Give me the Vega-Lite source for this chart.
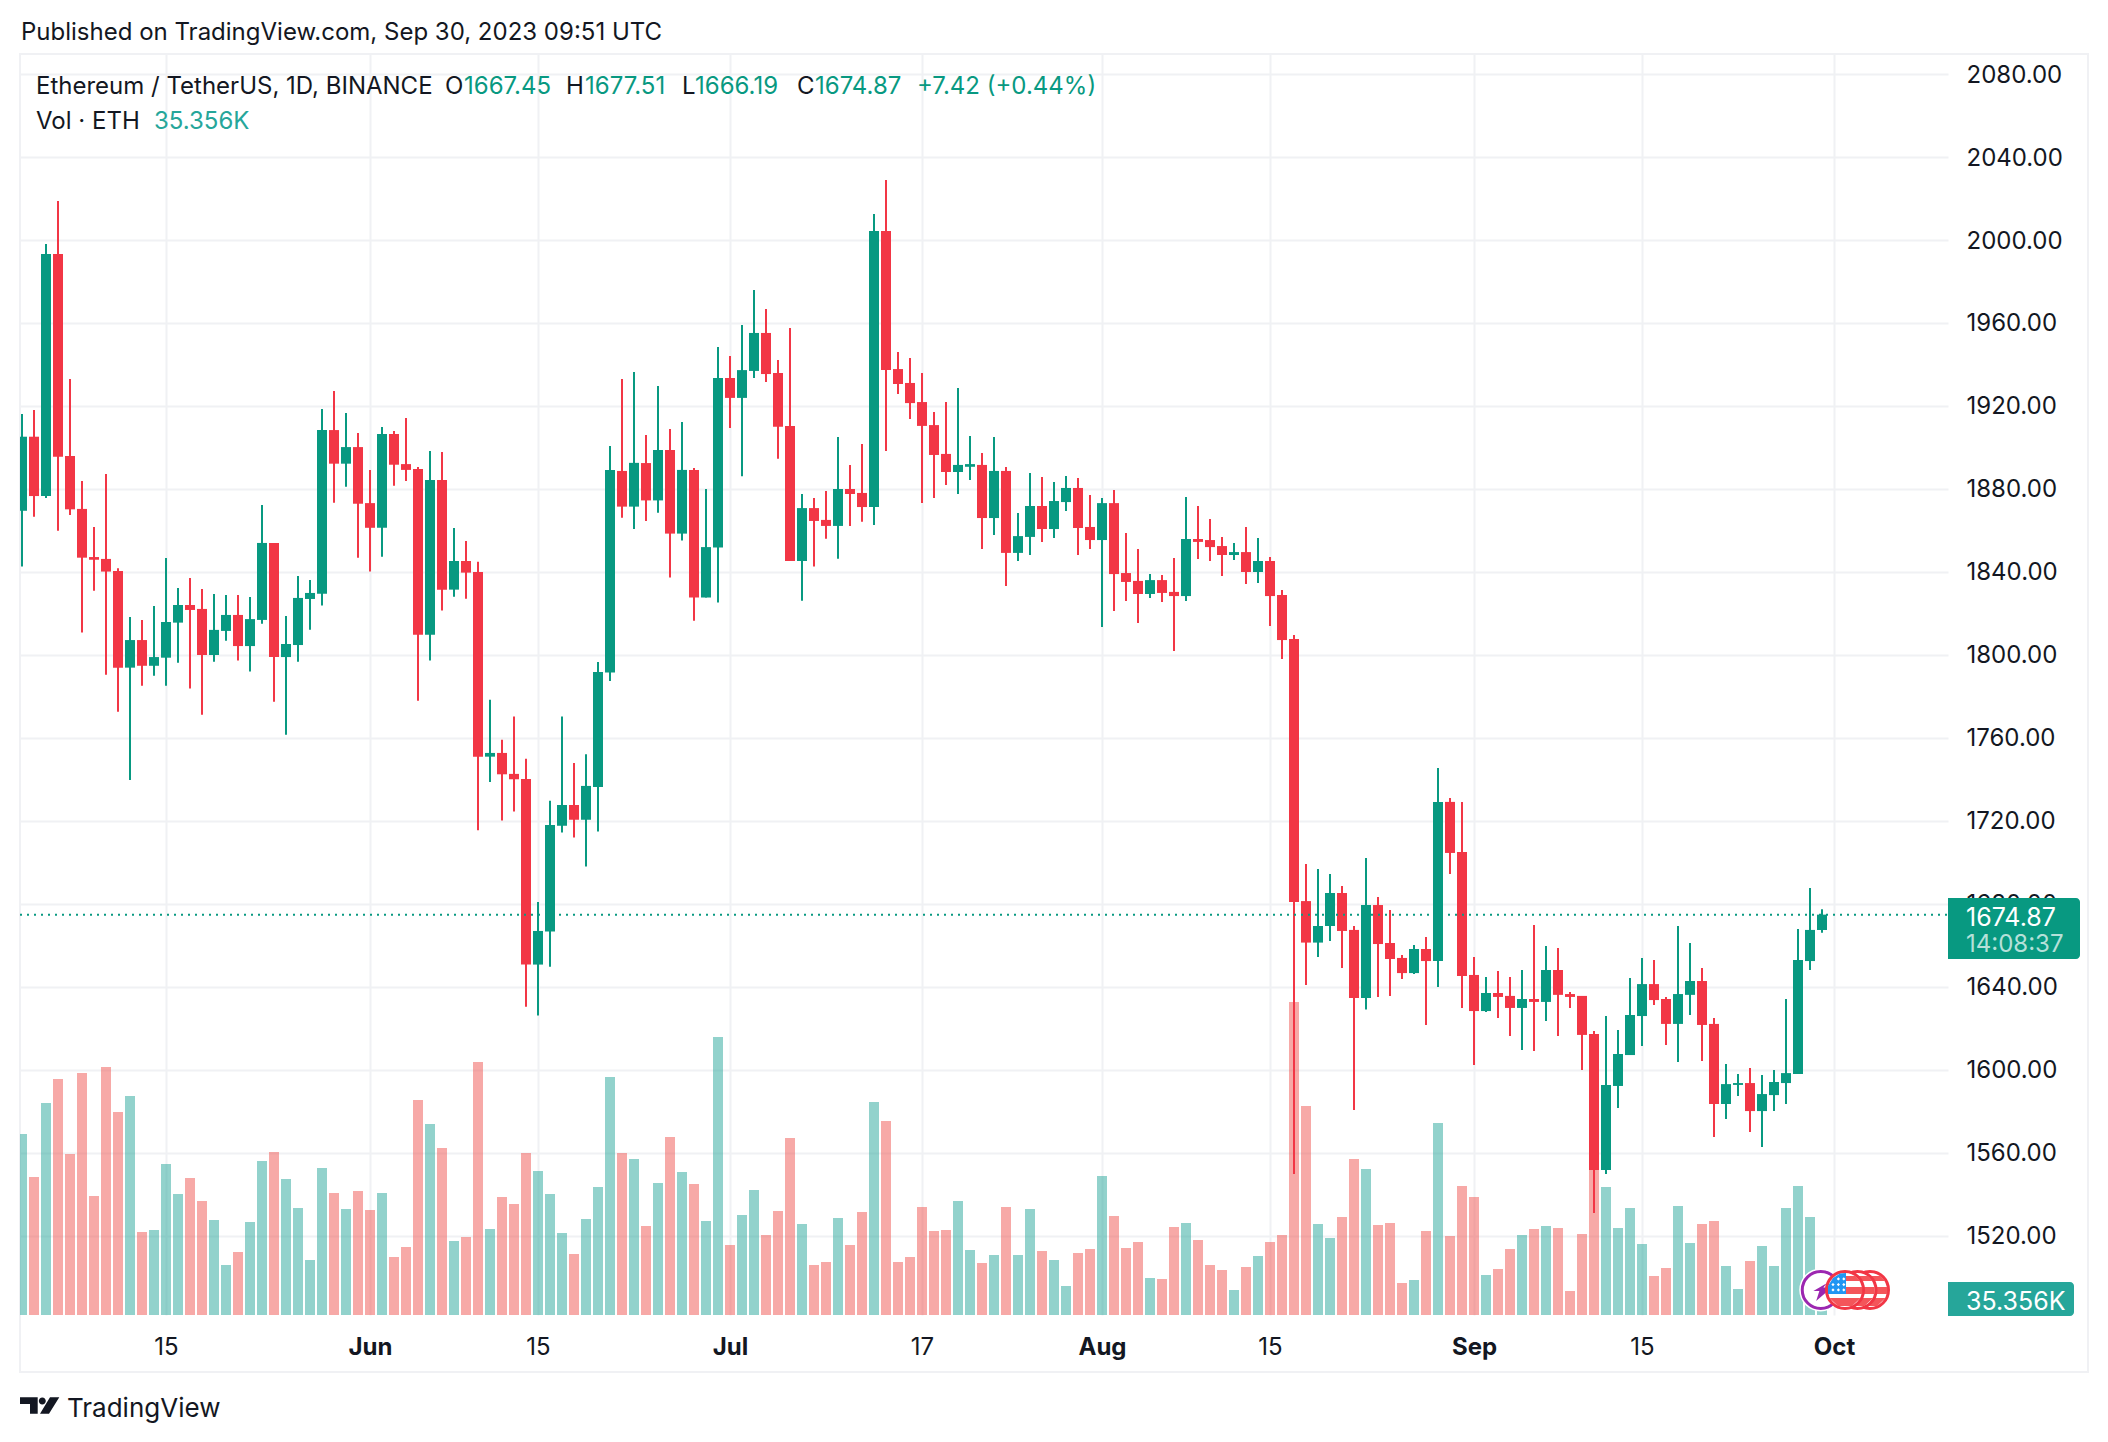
{"$schema":"https://vega.github.io/schema/vega-lite/v6.json","width":1928,"height":1261,"autosize":{"type":"none"},"padding":{"left":20,"top":54,"right":160,"bottom":127},"background":"#ffffff","config":{"view":{"stroke":null},"font":"Inter","text":{"font":"Inter"}},
"datasets":{"c":[
{"d":"2023-05-03","o":1869.5,"h":1916.1,"l":1842.6,"c":1905.2,"v":633.5},
{"d":"2023-05-04","o":1905.2,"h":1918.1,"l":1866.6,"c":1876.6,"v":483},
{"d":"2023-05-05","o":1876.6,"h":1998.1,"l":1875.7,"c":1993.3,"v":742},
{"d":"2023-05-06","o":1993.3,"h":2018.8,"l":1859.9,"c":1895.6,"v":826},
{"d":"2023-05-07","o":1895.9,"h":1933.0,"l":1867.5,"c":1870.2,"v":563.5},
{"d":"2023-05-08","o":1870.4,"h":1883.9,"l":1810.8,"c":1846.9,"v":847},
{"d":"2023-05-09","o":1847.2,"h":1861.7,"l":1831.0,"c":1845.9,"v":416.5},
{"d":"2023-05-10","o":1846.3,"h":1887.2,"l":1790.5,"c":1840.2,"v":868},
{"d":"2023-05-11","o":1840.5,"h":1841.8,"l":1772.7,"c":1793.9,"v":710.5},
{"d":"2023-05-12","o":1793.9,"h":1818.3,"l":1739.8,"c":1807.2,"v":766.5},
{"d":"2023-05-13","o":1807.2,"h":1816.9,"l":1785.2,"c":1794.8,"v":290.5},
{"d":"2023-05-14","o":1794.8,"h":1823.6,"l":1790.0,"c":1799.0,"v":297.5},
{"d":"2023-05-15","o":1798.7,"h":1846.7,"l":1785.2,"c":1815.9,"v":528.5},
{"d":"2023-05-16","o":1815.6,"h":1832.3,"l":1796.3,"c":1824.1,"v":423.5},
{"d":"2023-05-17","o":1824.1,"h":1837.1,"l":1783.8,"c":1821.7,"v":479.5},
{"d":"2023-05-18","o":1822.2,"h":1831.8,"l":1771.2,"c":1800.0,"v":399},
{"d":"2023-05-19","o":1800.0,"h":1829.4,"l":1796.8,"c":1812.1,"v":332.5},
{"d":"2023-05-20","o":1811.6,"h":1828.9,"l":1806.9,"c":1819.3,"v":175},
{"d":"2023-05-21","o":1819.3,"h":1828.9,"l":1797.3,"c":1804.3,"v":220.5},
{"d":"2023-05-22","o":1804.3,"h":1828.0,"l":1792.0,"c":1817.3,"v":325.5},
{"d":"2023-05-23","o":1816.9,"h":1872.3,"l":1815.1,"c":1854.0,"v":539},
{"d":"2023-05-24","o":1854.0,"h":1854.0,"l":1777.5,"c":1799.0,"v":570.5},
{"d":"2023-05-25","o":1799.0,"h":1818.8,"l":1761.6,"c":1805.3,"v":476},
{"d":"2023-05-26","o":1804.8,"h":1838.1,"l":1796.8,"c":1827.5,"v":374.5},
{"d":"2023-05-27","o":1827.0,"h":1836.1,"l":1812.2,"c":1829.9,"v":192.5},
{"d":"2023-05-28","o":1829.5,"h":1918.6,"l":1823.8,"c":1908.4,"v":514.5},
{"d":"2023-05-29","o":1908.4,"h":1927.2,"l":1873.4,"c":1892.2,"v":427},
{"d":"2023-05-30","o":1892.2,"h":1916.6,"l":1881.1,"c":1900.2,"v":371},
{"d":"2023-05-31","o":1900.2,"h":1907.0,"l":1846.9,"c":1872.9,"v":434},
{"d":"2023-06-01","o":1873.2,"h":1889.2,"l":1840.2,"c":1861.3,"v":367.5},
{"d":"2023-06-02","o":1861.3,"h":1909.9,"l":1847.4,"c":1906.5,"v":427},
{"d":"2023-06-03","o":1906.5,"h":1908.0,"l":1881.6,"c":1891.7,"v":203},
{"d":"2023-06-04","o":1892.0,"h":1914.2,"l":1883.9,"c":1889.2,"v":238},
{"d":"2023-06-05","o":1889.6,"h":1890.6,"l":1778.0,"c":1809.8,"v":752.5},
{"d":"2023-06-06","o":1809.8,"h":1898.3,"l":1797.3,"c":1884.3,"v":668.5},
{"d":"2023-06-07","o":1884.3,"h":1897.8,"l":1821.4,"c":1831.5,"v":584.5},
{"d":"2023-06-08","o":1831.5,"h":1861.2,"l":1828.1,"c":1845.3,"v":259},
{"d":"2023-06-09","o":1845.3,"h":1854.9,"l":1827.1,"c":1839.7,"v":273},
{"d":"2023-06-10","o":1840.0,"h":1844.9,"l":1715.5,"c":1751.0,"v":885.5},
{"d":"2023-06-11","o":1751.0,"h":1778.4,"l":1738.8,"c":1752.8,"v":301},
{"d":"2023-06-12","o":1752.8,"h":1759.1,"l":1720.2,"c":1742.5,"v":413},
{"d":"2023-06-13","o":1742.7,"h":1770.3,"l":1724.6,"c":1740.1,"v":388.5},
{"d":"2023-06-14","o":1740.2,"h":1750.0,"l":1630.5,"c":1650.8,"v":567},
{"d":"2023-06-15","o":1650.8,"h":1681.0,"l":1626.3,"c":1667.0,"v":504},
{"d":"2023-06-16","o":1666.8,"h":1729.7,"l":1649.8,"c":1718.1,"v":423.5},
{"d":"2023-06-17","o":1717.7,"h":1770.3,"l":1714.5,"c":1727.7,"v":287},
{"d":"2023-06-18","o":1727.7,"h":1748.0,"l":1712.0,"c":1720.6,"v":213.5},
{"d":"2023-06-19","o":1720.6,"h":1752.2,"l":1698.1,"c":1736.9,"v":336},
{"d":"2023-06-20","o":1736.4,"h":1796.6,"l":1714.9,"c":1791.8,"v":448},
{"d":"2023-06-21","o":1791.6,"h":1900.7,"l":1787.5,"c":1889.2,"v":833},
{"d":"2023-06-22","o":1888.7,"h":1933.0,"l":1866.2,"c":1871.5,"v":567},
{"d":"2023-06-23","o":1871.5,"h":1936.4,"l":1860.7,"c":1892.6,"v":546},
{"d":"2023-06-24","o":1892.5,"h":1906.0,"l":1864.6,"c":1874.5,"v":311.5},
{"d":"2023-06-25","o":1874.5,"h":1929.6,"l":1868.6,"c":1898.8,"v":462},
{"d":"2023-06-26","o":1898.8,"h":1908.9,"l":1837.4,"c":1858.5,"v":623},
{"d":"2023-06-27","o":1858.5,"h":1912.3,"l":1855.2,"c":1889.2,"v":500.5},
{"d":"2023-06-28","o":1889.2,"h":1890.1,"l":1816.5,"c":1827.7,"v":458.5},
{"d":"2023-06-29","o":1827.7,"h":1880.0,"l":1827.7,"c":1852.0,"v":329},
{"d":"2023-06-30","o":1851.8,"h":1948.4,"l":1825.3,"c":1933.5,"v":973},
{"d":"2023-07-01","o":1933.5,"h":1944.1,"l":1909.4,"c":1923.9,"v":245},
{"d":"2023-07-02","o":1923.9,"h":1959.0,"l":1886.1,"c":1937.3,"v":350},
{"d":"2023-07-03","o":1936.9,"h":1975.9,"l":1933.5,"c":1955.2,"v":437.5},
{"d":"2023-07-04","o":1955.2,"h":1966.7,"l":1931.6,"c":1935.4,"v":280},
{"d":"2023-07-05","o":1935.9,"h":1942.2,"l":1894.6,"c":1910.0,"v":364},
{"d":"2023-07-06","o":1910.4,"h":1957.6,"l":1845.3,"c":1845.3,"v":619.5},
{"d":"2023-07-07","o":1845.3,"h":1877.6,"l":1826.2,"c":1870.8,"v":318.5},
{"d":"2023-07-08","o":1870.8,"h":1875.7,"l":1842.6,"c":1864.6,"v":175},
{"d":"2023-07-09","o":1865.1,"h":1879.0,"l":1856.0,"c":1862.2,"v":185.5},
{"d":"2023-07-10","o":1862.2,"h":1905.1,"l":1846.4,"c":1880.0,"v":339.5},
{"d":"2023-07-11","o":1880.0,"h":1891.6,"l":1862.2,"c":1877.6,"v":245},
{"d":"2023-07-12","o":1878.1,"h":1901.7,"l":1864.2,"c":1871.3,"v":360.5},
{"d":"2023-07-13","o":1871.3,"h":2012.5,"l":1862.7,"c":2004.3,"v":745.5},
{"d":"2023-07-14","o":2004.3,"h":2028.9,"l":1898.3,"c":1937.3,"v":679},
{"d":"2023-07-15","o":1937.8,"h":1946.0,"l":1925.8,"c":1930.6,"v":185.5},
{"d":"2023-07-16","o":1931.1,"h":1943.1,"l":1913.7,"c":1921.4,"v":203},
{"d":"2023-07-17","o":1921.9,"h":1935.9,"l":1873.2,"c":1910.4,"v":378},
{"d":"2023-07-18","o":1910.8,"h":1917.1,"l":1875.7,"c":1896.4,"v":294},
{"d":"2023-07-19","o":1896.9,"h":1921.9,"l":1881.9,"c":1888.2,"v":297.5},
{"d":"2023-07-20","o":1888.2,"h":1928.7,"l":1877.6,"c":1891.6,"v":399},
{"d":"2023-07-21","o":1890.7,"h":1905.5,"l":1884.3,"c":1892.0,"v":227.5},
{"d":"2023-07-22","o":1891.6,"h":1897.3,"l":1851.1,"c":1866.0,"v":182},
{"d":"2023-07-23","o":1866.0,"h":1905.1,"l":1857.8,"c":1888.7,"v":210},
{"d":"2023-07-24","o":1888.7,"h":1890.6,"l":1833.3,"c":1849.2,"v":378},
{"d":"2023-07-25","o":1849.2,"h":1868.4,"l":1845.3,"c":1857.3,"v":210},
{"d":"2023-07-26","o":1856.9,"h":1887.7,"l":1848.2,"c":1871.8,"v":371},
{"d":"2023-07-27","o":1871.8,"h":1885.8,"l":1854.5,"c":1860.7,"v":224},
{"d":"2023-07-28","o":1860.7,"h":1883.4,"l":1856.4,"c":1874.2,"v":192.5},
{"d":"2023-07-29","o":1873.7,"h":1886.3,"l":1869.4,"c":1880.5,"v":101.5},
{"d":"2023-07-30","o":1880.5,"h":1885.3,"l":1848.2,"c":1861.2,"v":217},
{"d":"2023-07-31","o":1861.7,"h":1877.1,"l":1851.1,"c":1855.4,"v":231},
{"d":"2023-08-01","o":1855.4,"h":1875.7,"l":1813.5,"c":1873.2,"v":486.5},
{"d":"2023-08-02","o":1873.2,"h":1879.5,"l":1821.2,"c":1839.0,"v":346.5},
{"d":"2023-08-03","o":1839.5,"h":1858.8,"l":1826.0,"c":1835.2,"v":234.5},
{"d":"2023-08-04","o":1835.7,"h":1851.1,"l":1815.4,"c":1829.4,"v":255.5},
{"d":"2023-08-05","o":1829.4,"h":1839.0,"l":1827.5,"c":1836.1,"v":129.5},
{"d":"2023-08-06","o":1836.1,"h":1838.6,"l":1825.5,"c":1829.9,"v":126},
{"d":"2023-08-07","o":1830.4,"h":1846.7,"l":1801.9,"c":1828.4,"v":308},
{"d":"2023-08-08","o":1828.4,"h":1876.1,"l":1826.0,"c":1855.9,"v":322},
{"d":"2023-08-09","o":1855.9,"h":1871.8,"l":1846.3,"c":1854.5,"v":262.5},
{"d":"2023-08-10","o":1855.4,"h":1865.5,"l":1845.3,"c":1852.0,"v":175},
{"d":"2023-08-11","o":1852.5,"h":1856.9,"l":1838.1,"c":1848.2,"v":157.5},
{"d":"2023-08-12","o":1848.2,"h":1854.0,"l":1845.8,"c":1849.6,"v":87.5},
{"d":"2023-08-13","o":1849.6,"h":1861.7,"l":1834.2,"c":1840.0,"v":168},
{"d":"2023-08-14","o":1840.0,"h":1856.4,"l":1834.7,"c":1845.3,"v":206.5},
{"d":"2023-08-15","o":1845.3,"h":1847.2,"l":1814.0,"c":1828.4,"v":255.5},
{"d":"2023-08-16","o":1828.9,"h":1831.3,"l":1798.1,"c":1807.2,"v":280},
{"d":"2023-08-17","o":1807.7,"h":1809.6,"l":1549.9,"c":1681.0,"v":1095.5},
{"d":"2023-08-18","o":1681.4,"h":1699.3,"l":1641.0,"c":1661.4,"v":731.5},
{"d":"2023-08-19","o":1661.4,"h":1696.9,"l":1654.5,"c":1669.4,"v":318.5},
{"d":"2023-08-20","o":1669.4,"h":1694.5,"l":1662.2,"c":1685.3,"v":269.5},
{"d":"2023-08-21","o":1685.3,"h":1688.7,"l":1649.2,"c":1667.0,"v":343},
{"d":"2023-08-22","o":1667.5,"h":1669.4,"l":1580.7,"c":1634.7,"v":546},
{"d":"2023-08-23","o":1634.7,"h":1702.2,"l":1629.2,"c":1679.5,"v":511},
{"d":"2023-08-24","o":1679.5,"h":1683.4,"l":1635.2,"c":1660.7,"v":315},
{"d":"2023-08-25","o":1661.2,"h":1677.1,"l":1635.7,"c":1653.5,"v":322},
{"d":"2023-08-26","o":1654.0,"h":1655.4,"l":1643.9,"c":1646.7,"v":112},
{"d":"2023-08-27","o":1646.7,"h":1660.2,"l":1646.3,"c":1658.3,"v":122.5},
{"d":"2023-08-28","o":1658.3,"h":1664.1,"l":1621.7,"c":1652.5,"v":294},
{"d":"2023-08-29","o":1652.5,"h":1745.5,"l":1640.0,"c":1729.2,"v":672},
{"d":"2023-08-30","o":1729.2,"h":1731.1,"l":1694.5,"c":1704.6,"v":276.5},
{"d":"2023-08-31","o":1705.1,"h":1729.2,"l":1629.9,"c":1645.3,"v":451.5},
{"d":"2023-09-01","o":1645.8,"h":1654.5,"l":1602.4,"c":1628.4,"v":413},
{"d":"2023-09-02","o":1628.4,"h":1644.8,"l":1628.0,"c":1637.1,"v":140},
{"d":"2023-09-03","o":1637.1,"h":1647.7,"l":1625.1,"c":1635.2,"v":161},
{"d":"2023-09-04","o":1635.7,"h":1644.8,"l":1616.4,"c":1629.9,"v":231},
{"d":"2023-09-05","o":1629.9,"h":1648.2,"l":1609.6,"c":1634.2,"v":280},
{"d":"2023-09-06","o":1634.2,"h":1669.9,"l":1609.2,"c":1632.8,"v":301},
{"d":"2023-09-07","o":1632.8,"h":1659.8,"l":1623.6,"c":1648.2,"v":311.5},
{"d":"2023-09-08","o":1648.2,"h":1658.8,"l":1616.4,"c":1636.2,"v":304.5},
{"d":"2023-09-09","o":1636.6,"h":1637.6,"l":1629.9,"c":1635.2,"v":84},
{"d":"2023-09-10","o":1635.7,"h":1635.7,"l":1600.0,"c":1616.9,"v":283.5},
{"d":"2023-09-11","o":1617.3,"h":1618.8,"l":1531.1,"c":1551.8,"v":525},
{"d":"2023-09-12","o":1551.8,"h":1626.0,"l":1549.9,"c":1592.8,"v":448},
{"d":"2023-09-13","o":1592.3,"h":1619.3,"l":1581.7,"c":1607.7,"v":304.5},
{"d":"2023-09-14","o":1607.2,"h":1644.3,"l":1607.2,"c":1626.5,"v":374.5},
{"d":"2023-09-15","o":1626.0,"h":1654.0,"l":1611.6,"c":1641.4,"v":248.5},
{"d":"2023-09-16","o":1641.4,"h":1653.0,"l":1631.3,"c":1633.7,"v":136.5},
{"d":"2023-09-17","o":1634.2,"h":1635.2,"l":1612.1,"c":1622.2,"v":164.5},
{"d":"2023-09-18","o":1622.2,"h":1669.4,"l":1603.8,"c":1636.6,"v":381.5},
{"d":"2023-09-19","o":1636.2,"h":1661.2,"l":1626.5,"c":1642.9,"v":252},
{"d":"2023-09-20","o":1642.9,"h":1649.2,"l":1604.3,"c":1621.7,"v":318.5},
{"d":"2023-09-21","o":1622.2,"h":1625.1,"l":1567.7,"c":1583.6,"v":329},
{"d":"2023-09-22","o":1583.6,"h":1602.9,"l":1576.4,"c":1593.2,"v":171.5},
{"d":"2023-09-23","o":1592.8,"h":1598.1,"l":1587.5,"c":1593.7,"v":91},
{"d":"2023-09-24","o":1593.7,"h":1601.0,"l":1570.1,"c":1580.2,"v":189},
{"d":"2023-09-25","o":1580.2,"h":1597.6,"l":1562.9,"c":1588.4,"v":241.5},
{"d":"2023-09-26","o":1587.9,"h":1600.0,"l":1580.2,"c":1594.2,"v":171.5},
{"d":"2023-09-27","o":1593.7,"h":1634.2,"l":1583.6,"c":1598.5,"v":374.5},
{"d":"2023-09-28","o":1598.1,"h":1668.0,"l":1598.1,"c":1653.0,"v":451.5},
{"d":"2023-09-29","o":1652.5,"h":1687.7,"l":1648.2,"c":1667.5,"v":343},
{"d":"2023-09-30","o":1667.45,"h":1677.51,"l":1666.19,"c":1674.87,"v":35.356}
]},
"encoding":{"x":{"field":"d","type":"temporal","title":null,"scale":{"type":"utc","domain":[1683057600000,1696939200000],"nice":false,"padding":0},"axis":{"values":[1684108800000,1685577600000,1686787200000,1688169600000,1689552000000,1690848000000,1692057600000,1693526400000,1694736000000,1696118400000],"labelExpr":"utcdate(datum.value)==1 ? utcFormat(datum.value,'%b') : utcFormat(datum.value,'%-d')","labelFontWeight":{"condition":{"test":"utcdate(datum.value)==1","value":700},"value":400},"labelFont":"Inter","labelFontSize":24,"labelColor":"#131722","labelPadding":20,"labelOverlap":false,"labelFlush":false,"labelBound":false,"domain":false,"ticks":false,"grid":true,"gridColor":"#f0f1f4","gridWidth":2,"title":null}}},
"layer":[
{"data":{"values":[{"d":"2023-05-02T20:00:00Z","d2":"2023-10-22T04:00:00Z","p":2089.64,"p2":1454.5}]},"mark":{"type":"rect","fill":"transparent","stroke":"#f0f1f4","strokeWidth":2,"clip":false},"encoding":{"x2":{"field":"d2"},"y":{"field":"p","type":"quantitative","title":null,"scale":{"domain":[1481.92,2089.64],"nice":false,"zero":false},"axis":{"orient":"right","values":[1520,1560,1600,1640,1680,1720,1760,1800,1840,1880,1920,1960,2000,2040,2080],"format":".2f","labelFont":"Inter","labelFontSize":24,"labelColor":"#131722","labelPadding":18,"labelOffset":1,"labelOverlap":false,"labelBound":false,"domain":false,"ticks":false,"grid":true,"gridColor":"#f0f1f4","gridWidth":2,"title":null}},"y2":{"field":"p2"}}},
{"data":{"name":"c"},"mark":{"type":"bar","size":10,"clip":true,"opacity":0.5},"encoding":{"y":{"field":"v","type":"quantitative","title":null,"axis":null,"scale":{"domain":[0,4413.5],"nice":false}},"color":{"condition":{"test":"datum.c>=datum.o","value":"#26a69a"},"value":"#ef5350"}}},
{"data":{"name":"c"},"mark":{"type":"rule","strokeWidth":2,"clip":true},"encoding":{"y":{"field":"l","type":"quantitative","title":null,"axis":null,"scale":{"domain":[1481.92,2089.64],"nice":false,"zero":false}},"y2":{"field":"h"},"color":{"condition":{"test":"datum.c>=datum.o","value":"#089981"},"value":"#F23645"}}},
{"data":{"name":"c"},"mark":{"type":"bar","size":10,"clip":true},"encoding":{"y":{"field":"o","type":"quantitative","title":null,"axis":null,"scale":{"domain":[1481.92,2089.64],"nice":false,"zero":false}},"y2":{"field":"c"},"color":{"condition":{"test":"datum.c>=datum.o","value":"#089981"},"value":"#F23645"}}},
{"data":{"values":[{"d":"2023-05-02T20:00:00Z","d2":"2023-10-10T12:00:00Z","p":1674.87}]},"mark":{"type":"rule","strokeWidth":2,"color":"#089981","strokeDash":[2,5]},"encoding":{"x2":{"field":"d2"},"y":{"field":"p","type":"quantitative","title":null,"axis":null,"scale":{"domain":[1481.92,2089.64],"nice":false,"zero":false}}}},
{"data":{"values":[{"d":"2023-10-10T12:00:00Z","d2":"2023-10-21T12:00:00Z","p":1682.9,"p2":1653.5}]},"mark":{"type":"rect","fill":"#089981","cornerRadiusTopRight":4,"cornerRadiusBottomRight":4},"encoding":{"x2":{"field":"d2"},"y":{"field":"p","type":"quantitative","title":null,"axis":null,"scale":{"domain":[1481.92,2089.64],"nice":false,"zero":false}},"y2":{"field":"p2"}}},
{"data":{"values":[{"d":"2023-10-10T12:00:00Z","d2":"2023-10-21T00:00:00Z","p":1497.8,"p2":1481.4}]},"mark":{"type":"rect","fill":"#26a69a","cornerRadiusTopRight":4,"cornerRadiusBottomRight":4},"encoding":{"x2":{"field":"d2"},"y":{"field":"p","type":"quantitative","title":null,"axis":null,"scale":{"domain":[1481.92,2089.64],"nice":false,"zero":false}},"y2":{"field":"p2"}}},
{"data":{"values":[{"d":"2023-10-12T00:00:00Z","p":1673.2,"t":"1674.87"},{"d":"2023-10-12T00:00:00Z","p":1488.3,"t":"35.356K"}]},"mark":{"type":"text","align":"left","baseline":"middle","font":"Inter","fontSize":25,"color":"#ffffff"},"encoding":{"y":{"field":"p","type":"quantitative","title":null,"axis":null,"scale":{"domain":[1481.92,2089.64],"nice":false,"zero":false}},"text":{"field":"t"}}},
{"data":{"values":[{"d":"2023-10-12T00:00:00Z","p":1660,"t":"14:08:37"}]},"mark":{"type":"text","align":"left","baseline":"middle","font":"Inter","fontSize":24,"color":"#b5e0d9"},"encoding":{"y":{"field":"p","type":"quantitative","title":null,"axis":null,"scale":{"domain":[1481.92,2089.64],"nice":false,"zero":false}},"text":{"field":"t"}}},
{"data":{"values":[{"d":"2023-05-02T22:00:00Z","p":2100,"t":"Published on TradingView.com, Sep 30, 2023 09:51 UTC"},{"d":"2023-05-04T04:00:00Z","p":2073.5,"t":"Ethereum / TetherUS, 1D, BINANCE"},{"d":"2023-05-04T04:00:00Z","p":2057,"t":"Vol · ETH"},{"d":"2023-06-07T06:00:00Z","p":2073.5,"t":"O"},{"d":"2023-06-17T08:00:00Z","p":2073.5,"t":"H"},{"d":"2023-06-27T00:00:00Z","p":2073.5,"t":"L"},{"d":"2023-07-06T14:00:00Z","p":2073.5,"t":"C"}]},"mark":{"type":"text","align":"left","baseline":"middle","font":"Inter","fontSize":24,"color":"#131722"},"encoding":{"y":{"field":"p","type":"quantitative","title":null,"axis":null,"scale":{"domain":[1481.92,2089.64],"nice":false,"zero":false}},"text":{"field":"t"}}},
{"data":{"values":[{"d":"2023-06-08T20:00:00Z","p":2073.5,"t":"1667.45"},{"d":"2023-06-18T22:00:00Z","p":2073.5,"t":"1677.51"},{"d":"2023-06-28T02:00:00Z","p":2073.5,"t":"1666.19"},{"d":"2023-07-08T02:00:00Z","p":2073.5,"t":"1674.87"},{"d":"2023-07-16T14:00:00Z","p":2073.5,"t":"+7.42 (+0.44%)"}]},"mark":{"type":"text","align":"left","baseline":"middle","font":"Inter","fontSize":24,"color":"#089981"},"encoding":{"y":{"field":"p","type":"quantitative","title":null,"axis":null,"scale":{"domain":[1481.92,2089.64],"nice":false,"zero":false}},"text":{"field":"t"}}},
{"data":{"values":[{"d":"2023-05-14T00:00:00Z","p":2057,"t":"35.356K"}]},"mark":{"type":"text","align":"left","baseline":"middle","font":"Inter","fontSize":24,"color":"#26a69a"},"encoding":{"y":{"field":"p","type":"quantitative","title":null,"axis":null,"scale":{"domain":[1481.92,2089.64],"nice":false,"zero":false}},"text":{"field":"t"}}},
{"data":{"values":[{"d":"2023-05-06T18:00:00Z","p":1436.5,"t":"TradingView"}]},"mark":{"type":"text","align":"left","baseline":"middle","font":"Inter","fontSize":26,"color":"#131722"},"encoding":{"y":{"field":"p","type":"quantitative","title":null,"axis":null,"scale":{"domain":[1481.92,2089.64],"nice":false,"zero":false}},"text":{"field":"t"}}},
{"data":{"values":[{"d":"2023-05-04T11:00:00Z","p":1438.4}]},"mark":{"type":"point","shape":"M-0.975 -0.4H-0.09V0.42H-0.475V-0.07H-0.975Z M0.315 -0.215A0.175 0.175 0 1 1 -0.035 -0.215A0.175 0.175 0 1 1 0.315 -0.215Z M0.525 -0.4H0.99L0.475 0.42H0.025Z","size":1600,"filled":true,"fill":"#131722","stroke":null,"opacity":1},"encoding":{"y":{"field":"p","type":"quantitative","title":null,"axis":null,"scale":{"domain":[1481.92,2089.64],"nice":false,"zero":false}}}},
{"data":{"values":[{"d":"2023-09-29T21:30:00Z","p":1494.0}]},"mark":{"type":"point","shape":"circle","size":1849,"filled":true,"fill":"#ffffff","stroke":null,"opacity":1},"encoding":{"y":{"field":"p","type":"quantitative","title":null,"axis":null,"scale":{"domain":[1481.92,2089.64],"nice":false,"zero":false}}}},
{"data":{"values":[{"d":"2023-09-29T21:30:00Z","p":1494.0}]},"mark":{"type":"point","shape":"circle","size":1369,"filled":true,"fill":"#ffffff","stroke":"#9C27B0","strokeWidth":3,"opacity":1},"encoding":{"y":{"field":"p","type":"quantitative","title":null,"axis":null,"scale":{"domain":[1481.92,2089.64],"nice":false,"zero":false}}}},
{"data":{"values":[{"d":"2023-09-29T21:30:00Z","p":1494.0}]},"mark":{"type":"point","shape":"M0.3 -0.33L-0.37 0.05H-0.07L-0.23 0.55L0.55 -0.12H0.13Z","size":1600,"filled":true,"fill":"#9C27B0","stroke":null,"opacity":1},"encoding":{"y":{"field":"p","type":"quantitative","title":null,"axis":null,"scale":{"domain":[1481.92,2089.64],"nice":false,"zero":false}}}},
{"data":{"values":[{"d":"2023-10-04T00:00:00Z","p":1494.0}]},"mark":{"type":"point","shape":"circle","size":1369,"filled":true,"fill":"#ffffff","stroke":"#F23645","strokeWidth":3,"opacity":1},"encoding":{"y":{"field":"p","type":"quantitative","title":null,"axis":null,"scale":{"domain":[1481.92,2089.64],"nice":false,"zero":false}}}},
{"data":{"values":[{"d":"2023-10-04T00:00:00Z","p":1494.0}]},"mark":{"type":"point","shape":"M0.05 -0.7L0.525 -0.7L0.75 -0.45L0.05 -0.45Z M0.05 -0.15H0.86V0.2H0.05Z M-0.78 0.4H0.78L0.35 0.8H-0.35Z","size":1600,"filled":true,"fill":"#F4555A","stroke":null,"opacity":1},"encoding":{"y":{"field":"p","type":"quantitative","title":null,"axis":null,"scale":{"domain":[1481.92,2089.64],"nice":false,"zero":false}}}},
{"data":{"values":[{"d":"2023-10-02T23:00:00Z","p":1494.0}]},"mark":{"type":"point","shape":"circle","size":1369,"filled":true,"fill":"#ffffff","stroke":"#F23645","strokeWidth":3,"opacity":1},"encoding":{"y":{"field":"p","type":"quantitative","title":null,"axis":null,"scale":{"domain":[1481.92,2089.64],"nice":false,"zero":false}}}},
{"data":{"values":[{"d":"2023-10-02T23:00:00Z","p":1494.0}]},"mark":{"type":"point","shape":"M0.05 -0.7L0.525 -0.7L0.75 -0.45L0.05 -0.45Z M0.05 -0.15H0.86V0.2H0.05Z M-0.78 0.4H0.78L0.35 0.8H-0.35Z","size":1600,"filled":true,"fill":"#F4555A","stroke":null,"opacity":1},"encoding":{"y":{"field":"p","type":"quantitative","title":null,"axis":null,"scale":{"domain":[1481.92,2089.64],"nice":false,"zero":false}}}},
{"data":{"values":[{"d":"2023-10-01T22:00:00Z","p":1494.0}]},"mark":{"type":"point","shape":"circle","size":1369,"filled":true,"fill":"#ffffff","stroke":"#F23645","strokeWidth":3,"opacity":1},"encoding":{"y":{"field":"p","type":"quantitative","title":null,"axis":null,"scale":{"domain":[1481.92,2089.64],"nice":false,"zero":false}}}},
{"data":{"values":[{"d":"2023-10-01T22:00:00Z","p":1494.0}]},"mark":{"type":"point","shape":"M0.05 -0.7L0.525 -0.7L0.75 -0.45L0.05 -0.45Z M0.05 -0.15H0.86V0.2H0.05Z M-0.78 0.4H0.78L0.35 0.8H-0.35Z","size":1600,"filled":true,"fill":"#F4555A","stroke":null,"opacity":1},"encoding":{"y":{"field":"p","type":"quantitative","title":null,"axis":null,"scale":{"domain":[1481.92,2089.64],"nice":false,"zero":false}}}},
{"data":{"values":[{"d":"2023-10-01T22:00:00Z","p":1494.0}]},"mark":{"type":"point","shape":"M0.05 -0.85V0.2H-0.85V-0.2L-0.6 -0.6L-0.25 -0.82Z","size":1600,"filled":true,"fill":"#2196F3","stroke":null,"opacity":1},"encoding":{"y":{"field":"p","type":"quantitative","title":null,"axis":null,"scale":{"domain":[1481.92,2089.64],"nice":false,"zero":false}}}},
{"data":{"values":[{"d":"2023-10-01T22:00:00Z","p":1494.0}]},"mark":{"type":"point","shape":"M-0.68 -0.27L-0.6 -0.35L-0.52 -0.27L-0.6 -0.19Z M-0.41 -0.27L-0.33 -0.35L-0.25 -0.27L-0.33 -0.19Z M-0.14 -0.27L-0.06 -0.35L0.02 -0.27L-0.06 -0.19Z M-0.41 -0.55L-0.33 -0.63L-0.25 -0.55L-0.33 -0.47Z M-0.14 -0.55L-0.06 -0.63L0.02 -0.55L-0.06 -0.47Z M-0.68 0L-0.6 -0.08L-0.52 0L-0.6 0.08Z M-0.41 0L-0.33 -0.08L-0.25 0L-0.33 0.08Z M-0.14 0L-0.06 -0.08L0.02 0L-0.06 0.08Z","size":1600,"filled":true,"fill":"#ffffff","stroke":null,"opacity":1},"encoding":{"y":{"field":"p","type":"quantitative","title":null,"axis":null,"scale":{"domain":[1481.92,2089.64],"nice":false,"zero":false}}}}
],
"resolve":{"scale":{"y":"independent"},"axis":{"y":"independent"}}}
